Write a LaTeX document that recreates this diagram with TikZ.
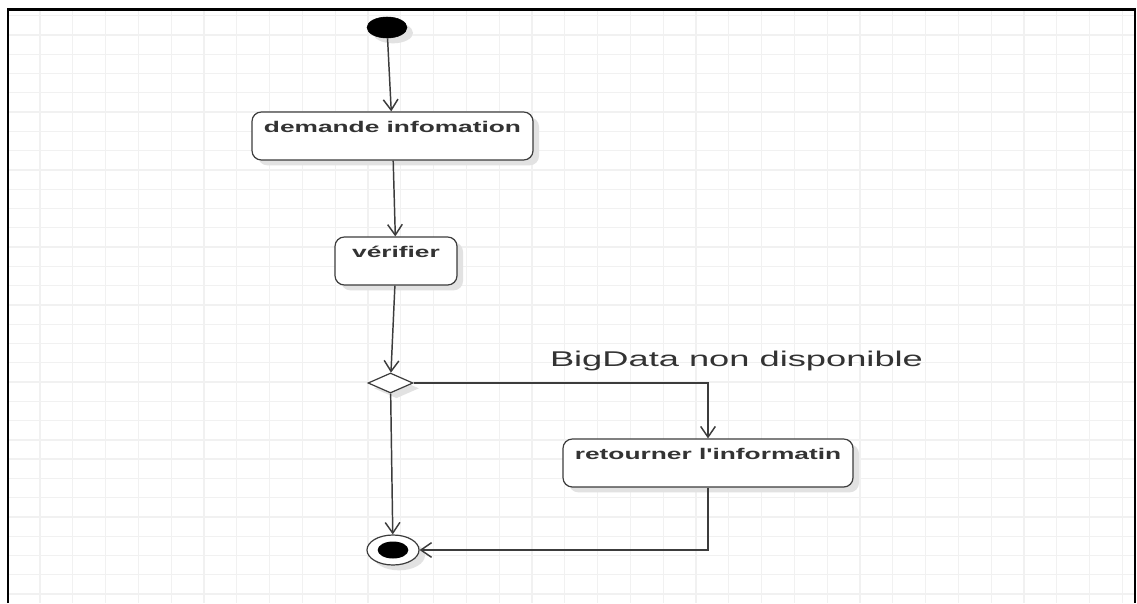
\documentclass[tikz,border=0pt]{standalone}
\usepackage{fontspec}
\usepackage{graphicx}
\setmainfont{Liberation Sans}
\usetikzlibrary{arrows.meta,shapes.geometric,shadows}

\definecolor{linegray}{HTML}{3C3C3C}
\definecolor{gridgray}{HTML}{F1F1F1}
\definecolor{shadowgray}{HTML}{E2E2E2}

% the source picture is stretched sideways
\newcommand{\widetext}[1]{\scalebox{1.7}[1]{#1}}

\tikzset{
  gridline/.style={draw=gridgray,line width=1pt},
  uml shadow/.style={drop shadow={shadow xshift=4.5pt,shadow yshift=-4pt,fill=shadowgray,opacity=1}},
  action/.style={rectangle,rounded corners=7pt,draw=linegray,line width=0.9pt,fill=white,
    uml shadow,minimum height=36pt,inner xsep=0pt,inner ysep=5pt,
    text height=10pt,text depth=16pt,text=black!80,
    font=\bfseries\fontsize{11.6pt}{14pt}\selectfont},
  flow/.style={draw=linegray,line width=1.1pt,-{Straight Barb[length=8pt,width=11pt]}}
}

\begin{document}
\begin{tikzpicture}[x=0.75pt,y=-0.75pt]

      \useasboundingbox (0,0) rectangle (1137,603);
      \fill[white] (0,0) rectangle (1137,603);

      % grid
      \foreach \gx in {0,...,33}
        \draw[gridline] ({40+32.8*\gx},10) -- ({40+32.8*\gx},603);
      \foreach \gy in {0,...,30}
        \draw[gridline] (9,{15.7+19.28*\gy}) -- (1134,{15.7+19.28*\gy});
      \draw[line width=2.2pt] (8,603) -- (8,9.5) -- (1135,9.5) -- (1135,603);

      \begin{scope}[every node/.style={action}]
        \node[minimum width=210.75pt] (demande) at (392.5,136) {\widetext{demande infomation}};
        \node[minimum width=91.5pt]   (verif)   at (396,261)   {\widetext{vérifier}};
        \node[minimum width=217.5pt]  (retour)  at (708,463)   {\widetext{retourner l\textquotesingle informatin}};
      \end{scope}

      \node[ellipse,fill=black,draw=black,uml shadow,minimum width=30pt,minimum height=15.75pt,inner sep=0pt]
        (init) at (387,27.5) {};
      \node[diamond,draw=linegray,line width=0.9pt,fill=white,uml shadow,minimum width=33.75pt,
        minimum height=15pt,inner sep=0pt] (decision) at (390.5,383) {};
      \node[ellipse,draw=linegray,line width=0.9pt,fill=white,uml shadow,minimum width=39pt,
        minimum height=22.5pt,inner sep=0pt] (final) at (393,550) {};
      \node[ellipse,fill=black,minimum width=23pt,minimum height=12.75pt,inner sep=0pt]
        (finalin) at (final.center) {};

      \node[text=black!80,font=\fontsize{16pt}{19pt}\selectfont] (cond) at (736.5,361)
        {\widetext{BigData non disponible}};

      \begin{scope}[every edge/.style={flow}]
        \path (init)     edge (demande);
        \path (demande)  edge (verif);
        \path (verif)    edge (decision);
        \path (decision) edge (final);
      \end{scope}
      \draw[flow] (decision.east) -| (retour.north);
      \draw[flow] (retour.south) |- (final.east);

    \end{tikzpicture}
\end{document}
